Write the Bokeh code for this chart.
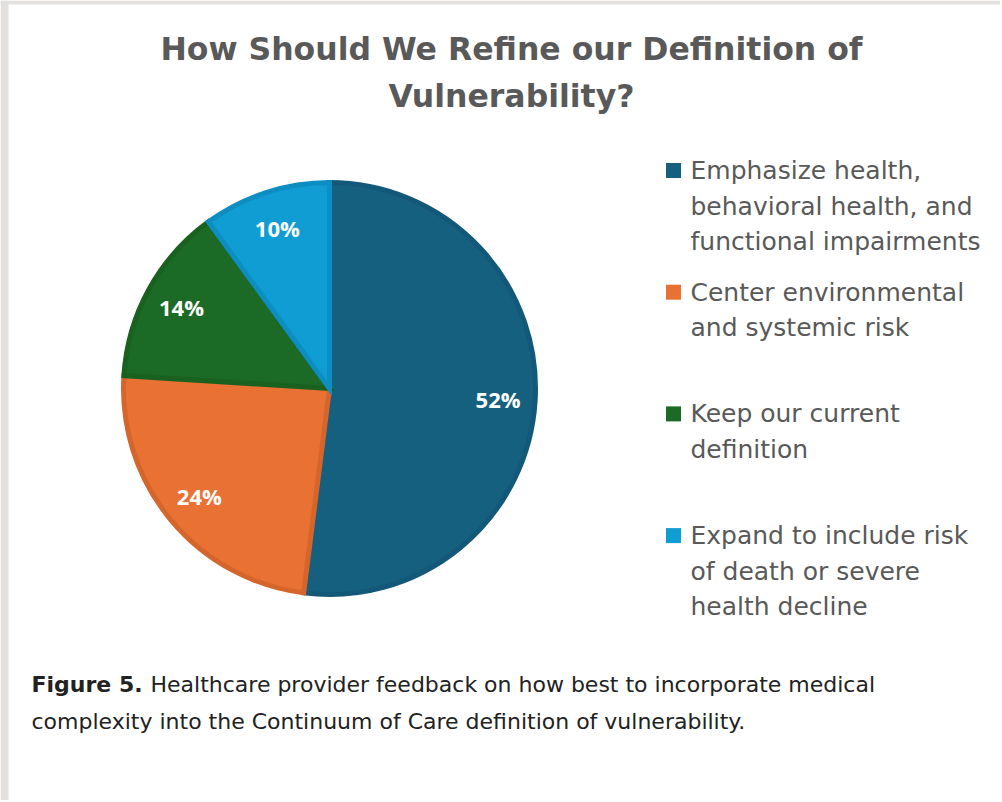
import math
from bokeh.plotting import figure
from bokeh.models import ColumnDataSource, Label, Range1d
from bokeh.core.properties import value
from bokeh.embed import file_html
from bokeh.resources import INLINE

# ---- data ----
categories = [
    "Emphasize health,\nbehavioral health, and\nfunctional impairments",
    "Center environmental\nand systemic risk",
    "Keep our current\ndefinition",
    "Expand to include risk\nof death or severe\nhealth decline",
]
shares = [52, 24, 14, 10]
pct_labels = ["52%", "24%", "14%", "10%"]
fill_colors = ["#16607F", "#E87133", "#1B6A26", "#0F9DD3"]
edge_colors = ["#135878", "#D6652C", "#18611F", "#0D8EC2"]

title_lines = ["How Should We Refine our Definition of", "Vulnerability?"]
caption_bold = "Figure 5."
caption_rest = ["Healthcare provider feedback on how best to incorporate medical",
                "complexity into the Continuum of Care definition of vulnerability."]

W, H = 1000, 800
p = figure(width=W, height=H, x_range=Range1d(0, W), y_range=Range1d(0, H),
           output_backend="svg", toolbar_location=None, min_border=0)
p.axis.visible = False
p.grid.visible = False
p.outline_line_color = None
p.background_fill_color = "white"
p.border_fill_color = "white"

def py(page_y):
    return H - page_y

def px(page_x):
    return page_x

# ---- screenshot frame ----
p.quad(left=[0, 0], right=[W, 8], top=[py(0), py(0)], bottom=[py(4), py(H)],
       fill_color="#E4E0DD", line_color=None)

# ---- pie ----
cx, cy, R = px(329), py(388), 206
total = sum(shares)
starts, ends, mids = [], [], []
acc = 0.0
for s in shares:
    f0 = acc / total
    acc += s
    f1 = acc / total
    starts.append(math.pi / 2 - f1 * 2 * math.pi)
    ends.append(math.pi / 2 - f0 * 2 * math.pi)
    mids.append(math.pi / 2 - (f0 + f1) / 2 * 2 * math.pi)

src = ColumnDataSource(dict(
    x=[cx] * 4, y=[cy] * 4, start=starts, end=ends,
    fill=fill_colors, edge=edge_colors,
    lx=[cx + 0.82 * R * math.cos(a) for a in mids],
    ly=[cy + 0.82 * R * math.sin(a) for a in mids],
    lab=pct_labels,
))
p.wedge(x="x", y="y", radius=R, start_angle="start", end_angle="end",
        fill_color="fill", line_color="edge", line_width=5, line_join="miter", source=src)
p.text(x="lx", y="ly", text="lab", source=src, text_color="white",
       text_font=value("Open Sans"), text_font_style="bold", text_font_size="22px",
       text_align="center", text_baseline="middle")

# ---- legend ----
leg_x_sq = px(673)
leg_x_txt = px(690)
first_y = 170
entry_gap = 121.7
line_gap = 35.5
sq = dict(x=[], y=[], c=[])
tx = dict(x=[], y=[], t=[])
for i, cat in enumerate(categories):
    y0 = first_y + i * entry_gap
    sq["x"].append(leg_x_sq)
    sq["y"].append(py(y0))
    sq["c"].append(fill_colors[i])
    for j, line in enumerate(cat.split("\n")):
        tx["x"].append(leg_x_txt)
        tx["y"].append(py(y0 + j * line_gap))
        tx["t"].append(line)
p.rect(x="x", y="y", width=15, height=15, fill_color="c", line_color=None,
       source=ColumnDataSource(sq))
p.text(x="x", y="y", text="t", source=ColumnDataSource(tx), text_color="#595959",
       text_font=value("DejaVu Sans"), text_font_size="25px",
       text_align="left", text_baseline="middle")

# ---- title ----
for i, t in enumerate(title_lines):
    p.add_layout(Label(x=px(511), y=py(48 + i * 47), text=t, text_align="center",
                       text_baseline="middle", text_color="#595959",
                       text_font="DejaVu Sans", text_font_style="bold",
                       text_font_size="31.5px"))

# ---- caption ----
p.add_layout(Label(x=px(31), y=py(684), text=caption_bold, text_align="left",
                   text_baseline="middle", text_color="#222222", text_font="DejaVu Sans",
                   text_font_style="bold", text_font_size="22px"))
p.add_layout(Label(x=px(150), y=py(684), text=caption_rest[0], text_align="left",
                   text_baseline="middle", text_color="#222222", text_font="DejaVu Sans",
                   text_font_size="22px"))
p.add_layout(Label(x=px(31), y=py(721), text=caption_rest[1], text_align="left",
                   text_baseline="middle", text_color="#222222", text_font="DejaVu Sans",
                   text_font_size="22px"))

open("out.html", "w").write(file_html(p, INLINE))
